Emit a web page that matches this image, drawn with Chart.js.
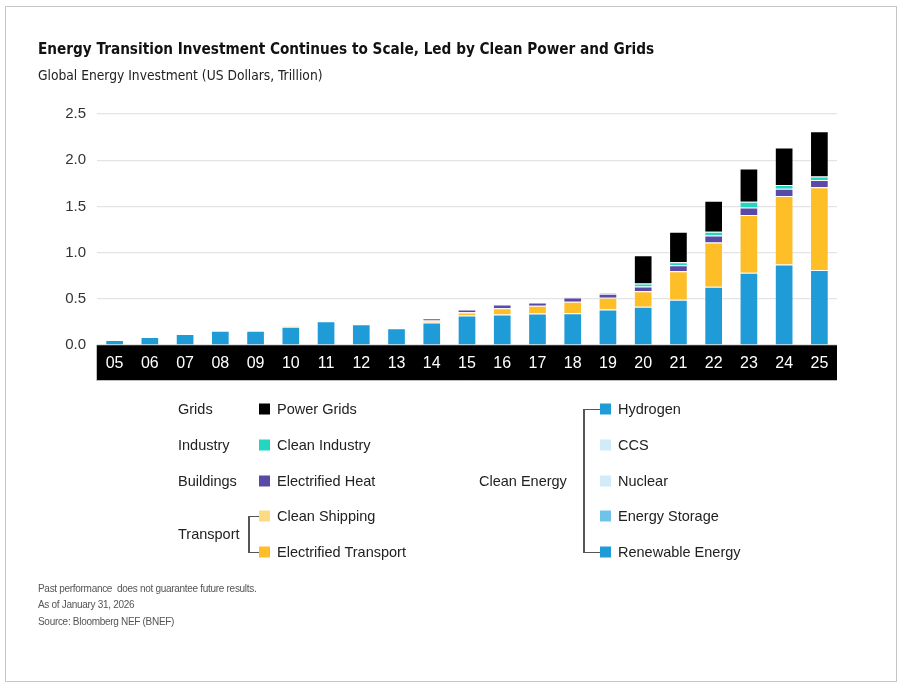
<!DOCTYPE html>
<html><head><meta charset="utf-8">
<script src="https://cdn.jsdelivr.net/npm/chart.js@4.4.1/dist/chart.umd.min.js"></script>
<style>
html,body{margin:0;padding:0;background:#fff;width:906px;height:687px;overflow:hidden;font-family:"Liberation Sans",Arial,sans-serif;}
#card{position:absolute;left:5px;top:6px;width:892px;height:676px;border:1px solid #c6c6c6;box-sizing:border-box;}
#c{position:absolute;left:0;top:0;}
.t{position:absolute;white-space:nowrap;line-height:1;transform:translateY(-50%);color:#222;}
.title{left:38px;top:50px;font-family:"DejaVu Sans Condensed","Liberation Sans Narrow",sans-serif;font-weight:bold;font-size:15.2px;color:#111;}
.sub{left:38px;top:76px;font-family:"DejaVu Sans Condensed","Liberation Sans Narrow",sans-serif;font-size:13.7px;color:#222;}
.lg{font-size:14.5px;color:#222;}
.sw{position:absolute;width:11px;height:11px;transform:translateY(-50%);}
.ln{position:absolute;background:#555;}
.fn{left:38px;font-size:10px;letter-spacing:-0.3px;color:#555;}
</style>
</head><body>
<div id="card"></div>
<canvas id="c" width="906" height="687"></canvas>
<div class="t title">Energy Transition Investment Continues to Scale, Led by Clean Power and Grids</div>
<div class="t sub">Global Energy Investment (US Dollars, Trillion)</div>
<div id="legend"></div>
<div class="t fn" style="top:589px">Past performance&nbsp; does not guarantee future results.</div>
<div class="t fn" style="top:605px">As of January 31, 2026</div>
<div class="t fn" style="top:622px">Source: Bloomberg NEF (BNEF)</div>
<script>
const years = ['05','06','07','08','09','10','11','12','13','14','15','16','17','18','19','20','21','22','23','24','25'];
const yTicks = [0, 0.5, 1.0, 1.5, 2.0, 2.5];
const renewableEnergy      = [0.055,0.087,0.119,0.155,0.155,0.197,0.256,0.224,0.180,0.243,0.319,0.330,0.341,0.344,0.384,0.413,0.489,0.630,0.783,0.870,0.812];
const energyStorage        = [0,0,0,0,0,0,0,0,0,0,0,0,0,0,0,0,0,0,0,0,0];
const nuclear              = [0,0,0,0,0,0,0,0,0,0,0,0,0,0,0,0,0,0,0,0,0];
const ccs                  = [0,0,0,0,0,0,0,0,0,0,0,0,0,0,0,0,0,0,0,0,0];
const hydrogen             = [0,0,0,0,0,0,0,0,0,0,0,0,0,0,0,0,0,0,0,0,0];
const electrifiedTransport = [0,0,0,0,0,0.008,0,0,0,0.018,0.032,0.069,0.083,0.123,0.127,0.168,0.308,0.478,0.623,0.742,0.895];
const cleanShipping        = [0,0,0,0,0,0,0,0,0,0.003,0.003,0,0,0,0,0,0,0,0,0,0];
const electrifiedHeat      = [0,0,0,0,0,0,0,0,0,0.026,0.030,0.039,0.036,0.047,0.045,0.052,0.065,0.076,0.083,0.080,0.080];
const cleanIndustry        = [0,0,0,0,0,0,0,0,0,0,0,0,0,0.008,0.008,0.032,0.033,0.043,0.062,0.040,0.036];
const powerGrids           = [0,0,0,0,0,0,0,0,0,0,0,0,0,0,0,0.305,0.330,0.334,0.358,0.406,0.490];

const series = [
  {label:'Renewable Energy', data:renewableEnergy, color:'#1f9bd7'},
  {label:'Energy Storage', data:energyStorage, color:'#6fc3ea'},
  {label:'Nuclear', data:nuclear, color:'#d2ebf8'},
  {label:'CCS', data:ccs, color:'#d2ebf8'},
  {label:'Hydrogen', data:hydrogen, color:'#1f9bd7'},
  {label:'Electrified Transport', data:electrifiedTransport, color:'#febe28'},
  {label:'Clean Shipping', data:cleanShipping, color:'#fedb82'},
  {label:'Electrified Heat', data:electrifiedHeat, color:'#5a4aa8'},
  {label:'Clean Industry', data:cleanIndustry, color:'#22d6bf'},
  {label:'Power Grids', data:powerGrids, color:'#000000'}
];

const band = {
  id:'band',
  beforeDraw(chart){
    const {ctx, chartArea:a} = chart;
    const xs = chart.scales.x;
    ctx.save();
    ctx.fillStyle = '#000';
    ctx.fillRect(a.left, xs.top, a.right - a.left, xs.bottom - xs.top);
    ctx.strokeStyle = '#bdbdbd';
    ctx.lineWidth = 1;
    ctx.beginPath();
    ctx.moveTo(a.left - 0.5, xs.top);
    ctx.lineTo(a.left - 0.5, xs.bottom + 0.5);
    ctx.lineTo(a.right, xs.bottom + 0.5);
    ctx.stroke();
    ctx.restore();
  }
};

new Chart(document.getElementById('c'), {
  type:'bar',
  data:{
    labels:years,
    datasets:series.map(s => ({
      label:s.label, data:s.data.map(v => v === 0 ? null : v), backgroundColor:s.color,
      borderColor:'rgba(255,255,255,0.3)', borderWidth:1,
      barPercentage:0.53, categoryPercentage:1
    }))
  },
  options:{
    responsive:false, animation:false, devicePixelRatio:1,
    layout:{padding:{left:0, right:69, top:114, bottom:307}},
    plugins:{legend:{display:false}, tooltip:{enabled:false}},
    scales:{
      x:{stacked:true,
         grid:{display:false, drawTicks:false}, border:{display:false},
         ticks:{color:'#fff', font:{family:'Liberation Sans', size:16}, padding:9, maxRotation:0, autoSkip:false},
         afterFit(s){ s.height = 35; }},
      y:{stacked:true, min:0, max:2.5,
         afterBuildTicks(s){ s.ticks = yTicks.map(v => ({value:v})); },
         grid:{color:'#e4e4e4', lineWidth:1.2, drawTicks:false}, border:{display:false},
         ticks:{color:'#333', font:{family:'Liberation Sans', size:15}, padding:11, callback:v => Number(v).toFixed(1)},
         afterFit(s){ s.width = 97; }}
    }
  },
  plugins:[band]
});

// Legend built from the series definitions
const L = document.getElementById('legend');
function add(html){ L.insertAdjacentHTML('beforeend', html); }
const rows = [409, 445, 481, 516, 552];
const leftItems = ['Power Grids','Clean Industry','Electrified Heat','Clean Shipping','Electrified Transport'];
const rightItems = ['Hydrogen','CCS','Nuclear','Energy Storage','Renewable Energy'];
const colorOf = name => series.find(s => s.label === name).color;
leftItems.forEach((n,i) => {
  add(`<div class="sw" style="left:259px;top:${rows[i]}px;background:${colorOf(n)}"></div>`);
  add(`<div class="t lg" style="left:277px;top:${rows[i]}px">${n}</div>`);
});
rightItems.forEach((n,i) => {
  add(`<div class="sw" style="left:600px;top:${rows[i]}px;background:${colorOf(n)}"></div>`);
  add(`<div class="t lg" style="left:618px;top:${rows[i]}px">${n}</div>`);
});
[['Grids',409],['Industry',445],['Buildings',481],['Transport',534]].forEach(([n,y]) =>
  add(`<div class="t lg" style="left:178px;top:${y}px">${n}</div>`));
add(`<div class="t lg" style="left:479px;top:481px">Clean Energy</div>`);
// brackets
add(`<div class="ln" style="left:248px;top:516px;width:1.5px;height:36px"></div>`);
add(`<div class="ln" style="left:248px;top:515.5px;width:11px;height:1.5px"></div>`);
add(`<div class="ln" style="left:248px;top:551.5px;width:11px;height:1.5px"></div>`);
add(`<div class="ln" style="left:583px;top:409px;width:1.5px;height:143px"></div>`);
add(`<div class="ln" style="left:583px;top:408.5px;width:17px;height:1.5px"></div>`);
add(`<div class="ln" style="left:583px;top:551.5px;width:17px;height:1.5px"></div>`);
</script>
</body></html>
